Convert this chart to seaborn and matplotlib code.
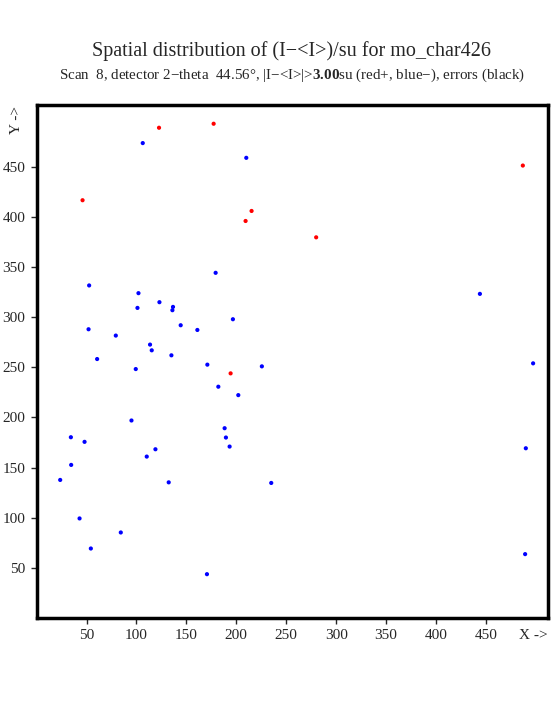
import matplotlib
matplotlib.use("Agg")
import matplotlib.pyplot as plt
import pandas as pd
import seaborn as sns

# positive deviations (red)
red_x = [122.6, 177.3, 46.0, 215.3, 209.3, 280.0, 487.0, 194.3]
red_y = [489.0, 493.0, 416.7, 406.0, 396.0, 379.7, 451.3, 244.0]

# negative deviations (blue)
blue_x = [106.3, 210.0, 179.3, 52.6, 102.0, 123.0, 136.6, 136.0, 101.0, 196.6,
          144.3, 161.0, 52.0, 79.3, 113.6, 115.3, 135.0, 60.6, 171.0, 225.6,
          99.3, 182.0, 202.0, 95.0, 188.3, 34.3, 189.6, 48.0, 193.3, 119.0,
          110.3, 34.6, 23.6, 132.3, 235.0, 43.0, 84.3, 54.3, 170.6, 444.0,
          497.3, 490.0, 489.3]
blue_y = [473.7, 459.0, 344.3, 331.7, 324.0, 315.0, 310.3, 307.0, 309.3, 298.0,
          292.0, 287.3, 288.0, 281.7, 272.7, 267.0, 262.0, 258.3, 252.7, 251.0,
          248.3, 230.7, 222.3, 197.0, 189.3, 180.3, 180.0, 175.7, 171.0, 168.3,
          161.0, 152.7, 137.7, 135.3, 134.7, 99.3, 85.3, 69.3, 43.7, 323.3,
          254.0, 169.3, 63.7]

ticks = [50, 100, 150, 200, 250, 300, 350, 400, 450]

df = pd.DataFrame({
    "x": red_x + blue_x,
    "y": red_y + blue_y,
    "sign": ["+"] * len(red_x) + ["-"] * len(blue_x),
})

sns.set_style("white")
plt.rcParams["font.family"] = ["Liberation Serif", "DejaVu Serif"]
plt.rcParams["mathtext.fontset"] = "custom"
plt.rcParams["mathtext.rm"] = "Liberation Serif"
plt.rcParams["mathtext.bf"] = "Liberation Serif:bold"

fig = plt.figure(figsize=(5.55, 7.25), dpi=100)
ax = fig.add_axes([0.066, 0.1476, 0.921, 0.708])

sns.scatterplot(data=df, x="x", y="y", hue="sign",
                palette={"+": "#ff0000", "-": "#0000ff"},
                s=9, linewidth=0, legend=False, ax=ax)

ax.set_xlim(0, 512)
ax.set_ylim(0, 512)
ax.set_xticks(ticks)
ax.set_yticks(ticks)
ax.set_xlabel("")
ax.set_ylabel("")
ax.tick_params(direction="out", length=4, width=1, labelsize=11, pad=4,
               bottom=True, left=True)
for sp in ax.spines.values():
    sp.set_linewidth(2.5)
    sp.set_color("black")

ax.text(1.0, -0.035, "X ->", transform=ax.transAxes, fontsize=11,
        ha="right", va="center")
ax.text(-0.04, 0.97, "Y ->", transform=ax.transAxes, fontsize=11,
        ha="center", va="center", rotation=90)

fig.text(0.525, 0.929, "Spatial distribution of (I\u2212<I>)/su for mo_char426",
         fontsize=14.5, ha="center", va="center")
fig.text(0.526, 0.896,
         "Scan  8, detector 2\u2212theta  44.56\u00b0, |I\u2212<I>|>$\\mathbf{3.00}$su (red+, blue\u2212), errors (black)",
         fontsize=10.8, ha="center", va="center")

fig.savefig("out.png", dpi=100)
